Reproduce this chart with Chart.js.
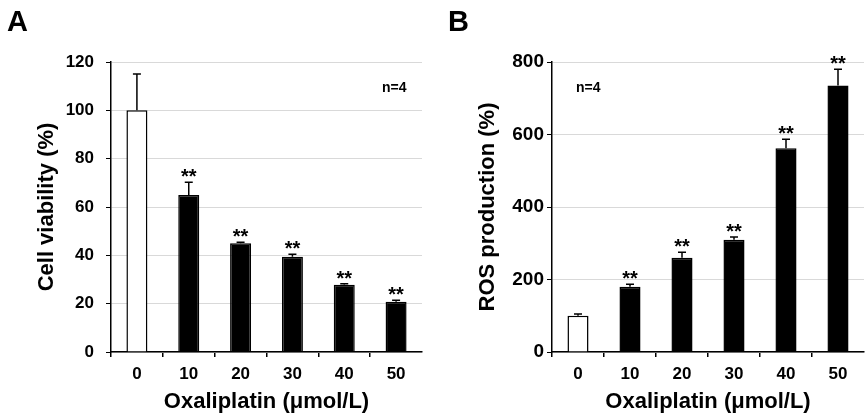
<!DOCTYPE html>
<html>
<head>
<meta charset="utf-8">
<script src="https://cdn.jsdelivr.net/npm/chart.js@4.4.0/dist/chart.umd.min.js"></script>
<style>
  html, body { margin: 0; padding: 0; background: #fff; }
  #wrap { position: relative; width: 865px; height: 417px; overflow: hidden; }
  canvas { position: absolute; top: 0; }
  #chartA { left: 0; }
  #chartB { left: 432px; }
</style>
</head>
<body>
<div id="wrap">
  <canvas id="chartA" width="432" height="417"></canvas>
  <canvas id="chartB" width="433" height="417"></canvas>
</div>
<script>
// ===== DATA =====
const doses = ['0', '10', '20', '30', '40', '50'];

const viability    = [100, 65, 45, 39.4, 27.8, 20.8];
const viabilityErr = [15, 5.2, 0.4, 1, 0.4, 0.6];
const viabilitySig = ['', '**', '**', '**', '**', '**'];
const viabilityTicks = [0, 20, 40, 60, 80, 100, 120];

const ros    = [100, 180, 260, 310, 562, 735];
const rosErr = [5, 7, 15, 7, 25, 45];
const rosSig = ['', '**', '**', '**', '**', '**'];
const rosTicks = [0, 200, 400, 600, 800];

const FONT = '"Liberation Sans", Arial, Helvetica, sans-serif';
const barFill = doses.map((d, i) => i === 0 ? '#ffffff' : '#000000');

// error bars, significance stars, panel letter, n label
const annotate = {
    id: 'annotate',
    afterDatasetsDraw(chart, args, opts) {
        const ctx = chart.ctx;
        const meta = chart.getDatasetMeta(0);
        const y = chart.scales.y;
        ctx.save();
        ctx.strokeStyle = '#000';
        ctx.lineWidth = 1.5;
        meta.data.forEach((bar, i) => {
            const top = y.getPixelForValue(opts.values[i]);
            const errTop = y.getPixelForValue(opts.values[i] + opts.errors[i]);
            ctx.beginPath();
            ctx.moveTo(bar.x, top);
            ctx.lineTo(bar.x, errTop);
            ctx.moveTo(bar.x - 4, errTop);
            ctx.lineTo(bar.x + 4, errTop);
            ctx.stroke();
            if (opts.sig[i]) {
                ctx.fillStyle = '#000';
                ctx.font = 'bold 20px ' + FONT;
                ctx.textAlign = 'center';
                ctx.textBaseline = 'alphabetic';
                ctx.fillText(opts.sig[i], bar.x, errTop + 1);
            }
        });
        ctx.fillStyle = '#000';
        ctx.textAlign = 'left';
        ctx.textBaseline = 'alphabetic';
        ctx.font = 'bold 29px ' + FONT;
        ctx.fillText(opts.letter, opts.letterX, 31);
        ctx.font = 'bold 14px ' + FONT;
        ctx.fillText('n=4', opts.nX, 92);
        ctx.restore();
    }
};

function makeChart(canvas, cfg) {
    return new Chart(canvas.getContext('2d'), {
        type: 'bar',
        data: {
            labels: doses,
            datasets: [{
                data: cfg.values,
                backgroundColor: barFill,
                borderColor: '#000',
                borderWidth: 1.5,
                barPercentage: 0.405,
                categoryPercentage: 1
            }]
        },
        options: {
            responsive: false,
            animation: false,
            events: [],
            layout: { padding: { top: 62, left: 0, right: cfg.padRight, bottom: 0 } },
            plugins: {
                legend: { display: false },
                tooltip: { enabled: false },
                annotate: cfg
            },
            scales: {
                x: {
                    offset: true,
                    grid: {
                        offset: true,
                        drawOnChartArea: false,
                        tickLength: 5,
                        lineWidth: 1.5,
                        tickColor: c => c.type === 'tick' ? '#000' : 'rgba(0,0,0,0)'
                    },
                    border: { color: '#000', width: 1.5 },
                    ticks: { color: '#000', padding: 7, font: { family: FONT, size: 17, weight: 'bold' } },
                    title: {
                        display: true,
                        text: 'Oxaliplatin (μmol/L)',
                        color: '#000',
                        padding: { top: 0, bottom: 2 },
                        font: { family: FONT, size: 22, weight: 'bold' }
                    },
                    afterFit: s => { s.height = 65; }
                },
                y: {
                    min: cfg.ticks[0],
                    max: cfg.ticks[cfg.ticks.length - 1],
                    afterBuildTicks: s => { s.ticks = cfg.ticks.map(v => ({ value: v })); },
                    grid: {
                        color: '#d9d9d9',
                        lineWidth: 1,
                        tickLength: 5,
                        tickColor: '#000'
                    },
                    border: { color: '#000', width: 1.5 },
                    ticks: { color: '#000', padding: cfg.tickPad, font: { family: FONT, size: cfg.tickSize, weight: 'bold' } },
                    title: {
                        display: true,
                        text: cfg.yTitle,
                        color: '#000',
                        padding: { top: cfg.titlePad, bottom: 0 },
                        font: { family: FONT, size: 22, weight: 'bold' }
                    },
                    afterFit: s => { s.width = cfg.yWidth; }
                }
            }
        },
        plugins: [annotate]
    });
}

makeChart(document.getElementById('chartA'), {
    values: viability, errors: viabilityErr, sig: viabilitySig, ticks: viabilityTicks,
    yTitle: 'Cell viability (%)', yWidth: 111, titlePad: 34, tickPad: 12, tickSize: 17,
    padRight: 10, letter: 'A', letterX: 7, nX: 382
});

makeChart(document.getElementById('chartB'), {
    values: ros, errors: rosErr, sig: rosSig, ticks: rosTicks,
    yTitle: 'ROS production (%)', yWidth: 120, titlePad: 43, tickPad: 3, tickSize: 19,
    padRight: 1, letter: 'B', letterX: 16, nX: 144
});
</script>
</body>
</html>
